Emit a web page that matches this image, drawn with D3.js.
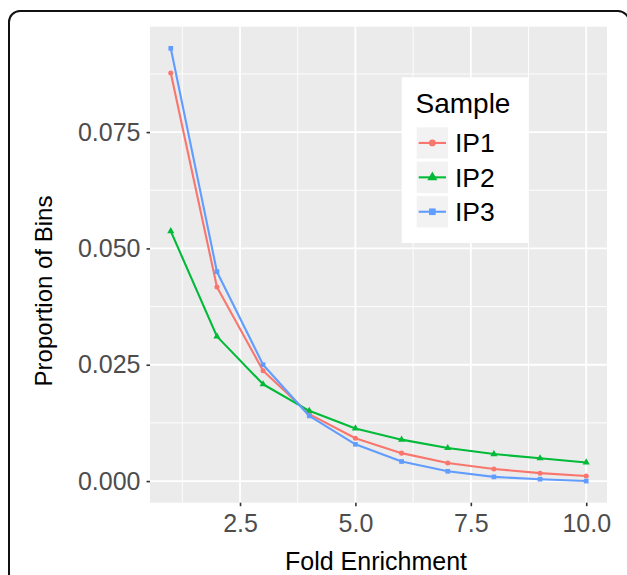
<!DOCTYPE html>
<html>
<head>
<meta charset="utf-8">
<script src="https://cdn.jsdelivr.net/npm/d3@7/dist/d3.min.js"></script>
<style>
  html, body { margin: 0; padding: 0; background: #fff; }
  svg { display: block; }
  text { font-family: "Liberation Sans", Arial, Helvetica, sans-serif; }
</style>
</head>
<body>
<svg id="chart" width="627" height="575"></svg>
<script>
// ---- data ----
const foldEnrichment = [1, 2, 3, 4, 5, 6, 7, 8, 9, 10];
const ip1 = [0.0877, 0.0417, 0.0237, 0.0144, 0.0092, 0.0060, 0.0039, 0.0026, 0.0017, 0.0011];
const ip2 = [0.0537, 0.0311, 0.0208, 0.0151, 0.0113, 0.0089, 0.0071, 0.0058, 0.0049, 0.0040];
const ip3 = [0.0930, 0.0450, 0.0250, 0.0140, 0.0079, 0.0042, 0.0021, 0.0009, 0.0004, 0.0000];
const seriesNames = ["IP1", "IP2", "IP3"];
const seriesColors = ["#F8766D", "#00BA38", "#619CFF"];
const seriesShapes = ["circle", "triangle", "square"];
const xTicks = [2.5, 5.0, 7.5, 10.0];
const xMinor = [1.25, 3.75, 6.25, 8.75];
const yTicks = [0.000, 0.025, 0.050, 0.075];
const yMinor = [0.0125, 0.0375, 0.0625, 0.0875];
const xTitle = "Fold Enrichment";
const yTitle = "Proportion of Bins";
const legendTitle = "Sample";

const seriesValues = [ip1, ip2, ip3];
const series = seriesNames.map((name, i) => ({
  name, color: seriesColors[i], shape: seriesShapes[i],
  points: foldEnrichment.map((x, j) => ({x, y: seriesValues[i][j]}))
}));

// ---- layout ----
const svg = d3.select("#chart");
const panel = {left: 150, right: 607, top: 26.7, bottom: 502.7};

// border
svg.append("rect")
  .attr("x", 9).attr("y", 11).attr("width", 620).attr("height", 620)
  .attr("rx", 11).attr("ry", 11)
  .attr("fill", "none").attr("stroke", "#111").attr("stroke-width", 2);

const xExt = d3.extent(foldEnrichment);
const xPad = (xExt[1] - xExt[0]) * 0.05;
const x = d3.scaleLinear().domain([xExt[0] - xPad, xExt[1] + xPad]).range([panel.left, panel.right]);
const allY = ip1.concat(ip2, ip3);
const yExt = d3.extent(allY);
const yPad = (yExt[1] - yExt[0]) * 0.05;
const y = d3.scaleLinear().domain([yExt[0] - yPad, yExt[1] + yPad]).range([panel.bottom, panel.top]);

// panel background
svg.append("rect")
  .attr("x", panel.left).attr("y", panel.top)
  .attr("width", panel.right - panel.left).attr("height", panel.bottom - panel.top)
  .attr("fill", "#EBEBEB");

const grid = svg.append("g");
grid.selectAll(".xminor").data(xMinor).enter().append("line")
  .attr("x1", d => x(d)).attr("x2", d => x(d))
  .attr("y1", panel.top).attr("y2", panel.bottom)
  .attr("stroke", "#fff").attr("stroke-width", 0.9);
grid.selectAll(".yminor").data(yMinor).enter().append("line")
  .attr("y1", d => y(d)).attr("y2", d => y(d))
  .attr("x1", panel.left).attr("x2", panel.right)
  .attr("stroke", "#fff").attr("stroke-width", 0.9);
grid.selectAll(".xmajor").data(xTicks).enter().append("line")
  .attr("x1", d => x(d)).attr("x2", d => x(d))
  .attr("y1", panel.top).attr("y2", panel.bottom)
  .attr("stroke", "#fff").attr("stroke-width", 1.8);
grid.selectAll(".ymajor").data(yTicks).enter().append("line")
  .attr("y1", d => y(d)).attr("y2", d => y(d))
  .attr("x1", panel.left).attr("x2", panel.right)
  .attr("stroke", "#fff").attr("stroke-width", 1.8);

// axes
const xAxis = d3.axisBottom(x).tickValues(xTicks).tickFormat(d3.format(".1f")).tickSize(3.5).tickPadding(8);
const yAxis = d3.axisLeft(y).tickValues(yTicks).tickFormat(d3.format(".3f")).tickSize(3.5).tickPadding(6);

const gx = svg.append("g").attr("transform", `translate(0,${panel.bottom})`).call(xAxis);
const gy = svg.append("g").attr("transform", `translate(${panel.left},0)`).call(yAxis);
[gx, gy].forEach(g => {
  g.select(".domain").remove();
  g.selectAll(".tick line").attr("stroke", "#333").attr("stroke-width", 1.6);
  g.selectAll(".tick text").attr("fill", "#4D4D4D").style("font-size", "25px")
    .style("font-family", '"Liberation Sans", Arial, sans-serif');
});

// titles
svg.append("text")
  .attr("x", 376).attr("y", 570)
  .attr("text-anchor", "middle").attr("fill", "#000")
  .style("font-size", "25px").text(xTitle);
svg.append("text")
  .attr("transform", "translate(52,291) rotate(-90)")
  .attr("text-anchor", "middle").attr("fill", "#000")
  .style("font-size", "24px").text(yTitle);

// lines & points
const line = d3.line().x(d => x(d.x)).y(d => y(d.y));
const symbolFor = s => s === "circle" ? d3.symbolCircle : s === "triangle" ? d3.symbolTriangle : d3.symbolSquare;
const symSize = {circle: 20, triangle: 22, square: 22};

const gs = svg.append("g").selectAll("g").data(series).enter().append("g");
gs.append("path")
  .attr("d", d => line(d.points))
  .attr("fill", "none").attr("stroke", d => d.color).attr("stroke-width", 2.1)
  .attr("stroke-linejoin", "round");
gs.each(function(s) {
  d3.select(this).selectAll("path.pt").data(s.points).enter().append("path")
    .attr("class", "pt")
    .attr("transform", d => `translate(${x(d.x)},${y(d.y)})`)
    .attr("d", d3.symbol().type(symbolFor(s.shape)).size(symSize[s.shape]))
    .attr("fill", s.color);
});

// legend
const lg = svg.append("g");
lg.append("rect")
  .attr("x", 401.7).attr("y", 77.3).attr("width", 126.3).attr("height", 165.7)
  .attr("fill", "#fff");
lg.append("text")
  .attr("x", 415.5).attr("y", 113).attr("fill", "#000")
  .style("font-size", "28px").text(legendTitle);
const keyPitch = 34.4, keyTop = 127.3, keySize = 31.3;
const keys = lg.selectAll("g.key").data(series).enter().append("g")
  .attr("transform", (d, i) => `translate(416.7,${keyTop + i * keyPitch})`);
keys.append("rect").attr("width", keySize).attr("height", keySize).attr("fill", "#F2F2F2");
keys.append("line")
  .attr("x1", 2).attr("x2", keySize - 2)
  .attr("y1", keySize / 2).attr("y2", keySize / 2)
  .attr("stroke", d => d.color).attr("stroke-width", 2.1);
keys.append("path")
  .attr("transform", `translate(${keySize / 2},${keySize / 2})`)
  .attr("d", d => d3.symbol().type(symbolFor(d.shape)).size(d.shape === "circle" ? 36 : 44)())
  .attr("fill", d => d.color);
keys.append("text")
  .attr("x", keySize + 7).attr("y", keySize / 2).attr("dy", "0.36em")
  .attr("fill", "#000").style("font-size", "26.5px").text(d => d.name);
</script>
</body>
</html>
